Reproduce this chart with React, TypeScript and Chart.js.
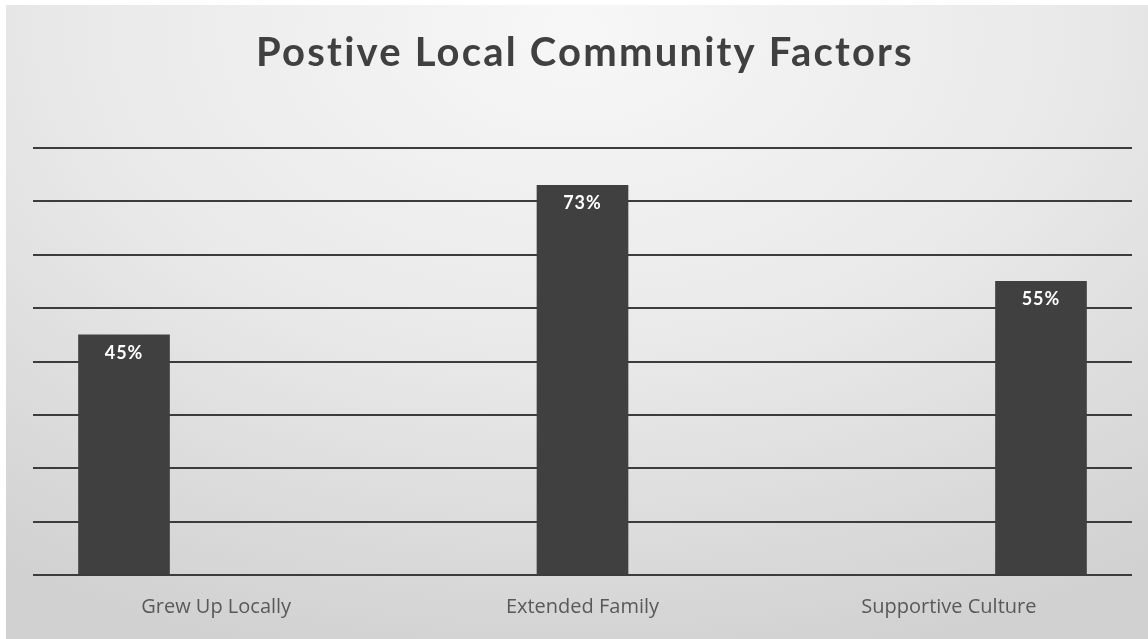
import React, { useEffect, useRef } from "react";
import { Chart, registerables } from "chart.js";

Chart.register(...registerables);

const title = "Postive Local Community Factors";
const categories = ["Grew Up Locally", "Extended Family", "Supportive Culture"];
const values = [45, 73, 55];
const yMax = 80;
const yStep = 10;

const bgPlugin = {
  id: "bgPlugin",
  beforeDraw(chart: any) {
    const { ctx, width, height } = chart;
    ctx.save();
    ctx.fillStyle = "#ffffff";
    ctx.fillRect(0, 0, width, height);
    ctx.translate(574, 30);
    ctx.scale(1000 / 650, 1);
    const g = ctx.createRadialGradient(0, 0, 0, 0, 0, 650);
    g.addColorStop(0, "#f7f7f7");
    g.addColorStop(0.5, "#e9e9e9");
    g.addColorStop(1, "#d1d1d1");
    ctx.fillStyle = g;
    ctx.fillRect((6 - 574) * 650 / 1000, 5 - 30, (width - 6) * 650 / 1000, height);
    ctx.restore();
    ctx.save();
    ctx.fillStyle = "#404040";
    ctx.font = "bold 40px Lato";
    (ctx as any).letterSpacing = "2.2px";
    ctx.textAlign = "center";
    ctx.textBaseline = "alphabetic";
    ctx.fillText(title, 585, 66);
    ctx.restore();
  },
};

const labelPlugin = {
  id: "labelPlugin",
  afterDatasetsDraw(chart: any) {
    const { ctx } = chart;
    const meta = chart.getDatasetMeta(0);
    ctx.save();
    ctx.fillStyle = "#ffffff";
    ctx.font = "bold 18px Lato";
    (ctx as any).letterSpacing = "1px";
    ctx.textAlign = "center";
    ctx.textBaseline = "middle";
    meta.data.forEach((bar: any, i: number) => {
      ctx.fillText(values[i] + "%", bar.x, bar.y + 18);
    });
    ctx.restore();
  },
};

export default function App() {
  const ref = useRef<HTMLCanvasElement>(null);
  useEffect(() => {
    if (!ref.current) return;
    const chart = new Chart(ref.current, {
      type: "bar",
      data: {
        labels: categories,
        datasets: [
          {
            data: values.map((v, i) => ({ x: i, y: v })),
            backgroundColor: "#404040",
            borderWidth: 0,
            barThickness: 91,
            xAxisID: "x2",
            yAxisID: "y",
          } as any,
        ],
      },
      options: {
        animation: false,
        responsive: false,
        maintainAspectRatio: false,
        layout: { padding: { left: 33, right: 16, top: 148, bottom: 8 } },
        plugins: { legend: { display: false }, tooltip: { enabled: false }, title: { display: false } },
        scales: {
          x: {
            type: "category",
            labels: categories,
            grid: { display: false },
            border: { display: false },
            ticks: { color: "#595959", font: { family: "Open Sans", size: 20 }, padding: 12 },
          },
          x2: {
            type: "linear",
            display: false,
            offset: false,
            min: -0.1985,
            max: 2.1985,
          },
          y: {
            min: 0,
            max: yMax,
            ticks: { display: false, stepSize: yStep },
            grid: { color: "#3c3c3c", lineWidth: 2, drawTicks: false },
            border: { display: false },
          },
        },
      },
      plugins: [bgPlugin, labelPlugin],
    });
    return () => chart.destroy();
  }, []);
  return (
    <div style={{ position: "fixed", left: 0, top: 0, width: 1148, height: 639 }}>
      <canvas ref={ref} width={1148} height={639} />
    </div>
  );
}
